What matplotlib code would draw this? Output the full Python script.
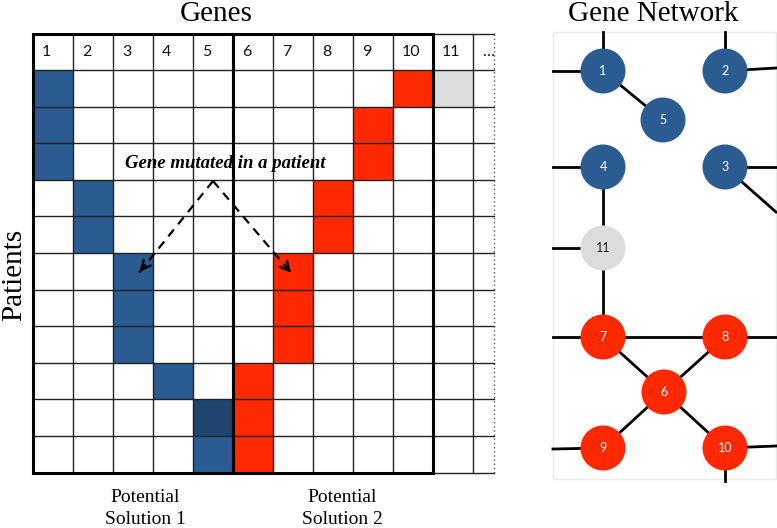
import numpy as np
import matplotlib
matplotlib.use("Agg")
from matplotlib import pyplot as plt
from matplotlib.patches import Rectangle, Circle

# mutation matrix: (patient row, gene column, kind)
blue_cells = [(0, 1), (1, 1), (2, 1), (3, 2), (4, 2), (5, 3), (6, 3), (7, 3), (8, 4), (10, 5)]
dark_cells = [(9, 5)]
red_cells = [(0, 10), (1, 9), (2, 9), (3, 8), (4, 8), (5, 7), (6, 7), (7, 7), (8, 6), (9, 6), (10, 6)]
gray_cells = [(0, 11)]
gene_labels = ["1", "2", "3", "4", "5", "6", "7", "8", "9", "10", "11", "\u2026"]
n_patients = 11

# network
blue_nodes = ["1", "2", "3", "4", "5"]
red_nodes = ["6", "7", "8", "9", "10"]
gray_nodes = ["11"]
edges = [("1", "5"), ("4", "11"), ("11", "7"), ("7", "8"), ("7", "6"), ("8", "6"), ("6", "9"), ("6", "10")]

BLUE = "#2A5C92"
DARK = "#1F4670"
RED = "#FF2800"
GRAY = "#DCDCDC"
serif = "Liberation Serif"
sans = "Lato"

fig = plt.figure(figsize=(7.77, 5.28), dpi=100)
ax = fig.add_axes([0, 0, 1, 1])
ax.set_xlim(0, 777)
ax.set_ylim(528, 0)
ax.axis("off")

# grid layout (pixels)
x0, y0, cw, rh, top = 33, 70, 40, 36.6, 34
def cell_xy(r, c):
    return x0 + (c - 1) * cw, y0 + r * rh

for cells, col in [(blue_cells, BLUE), (dark_cells, DARK), (red_cells, RED), (gray_cells, GRAY)]:
    for r, c in cells:
        x, y = cell_xy(r, c)
        ax.add_patch(Rectangle((x, y), cw, rh, facecolor=col, edgecolor="none", zorder=1))

bottom = y0 + n_patients * rh
right = x0 + 11 * cw + 21
# thin grid lines
for i in range(n_patients + 1):
    y = y0 + i * rh
    ax.plot([x0, right], [y, y], color="#222222", lw=1.0, zorder=2)
ax.plot([x0, right], [top, top], color="#222222", lw=1.0, zorder=2)
for c in range(12):
    x = x0 + c * cw
    ax.plot([x, x], [top, bottom], color="#222222", lw=1.0, zorder=2)
ax.plot([right, right], [top, bottom], color="#555555", lw=1.0, ls=(0, (1, 2)), zorder=2)

# thick solution boxes
for c0 in (0, 5):
    ax.add_patch(Rectangle((x0 + c0 * cw, top), 5 * cw, bottom - top, fill=False,
                           edgecolor="black", lw=2.2, zorder=3))

for i, g in enumerate(gene_labels):
    ax.text(x0 + i * cw + 9, 52, g, fontsize=11.5, family=sans, ha="left", va="center", color="#111111")

ax.text(216, 14, "Genes", fontsize=21, family=serif, ha="center", va="center")
ax.text(14, 275, "Patients", fontsize=21, family=serif, ha="center", va="center", rotation=90)
ax.text(145, 497, "Potential", fontsize=14, family=serif, ha="center", va="center")
ax.text(145, 520, "Solution 1", fontsize=14, family=serif, ha="center", va="center")
ax.text(342, 497, "Potential", fontsize=14, family=serif, ha="center", va="center")
ax.text(342, 520, "Solution 2", fontsize=14, family=serif, ha="center", va="center")

ax.text(225, 163, "Gene mutated in a patient", fontsize=13.5, family=serif, style="italic",
        weight="bold", ha="center", va="center", zorder=5)

# dashed arrows
apex = (213, 181)
for end in [(138, 274), (293, 275)]:
    ax.plot([apex[0], end[0]], [apex[1], end[1]], color="black", lw=1.6, ls=(0, (4, 3)), zorder=5)
    d = np.array(end) - np.array(apex)
    d = d / np.hypot(*d)
    ax.annotate("", xy=end, xytext=(end[0] - d[0] * 14, end[1] - d[1] * 14),
                arrowprops=dict(arrowstyle="->", lw=1.8, color="black", mutation_scale=16), zorder=6)

# network panel
ax.add_patch(Rectangle((553, 32), 223, 447, fill=False, edgecolor="#EAEAEA", lw=1.0, zorder=0))
pos = {"1": (603, 71), "2": (725, 71), "5": (663, 120), "4": (603, 167), "3": (725, 167),
       "11": (603, 248), "7": (603, 337), "8": (725, 337), "6": (664, 392),
       "9": (603, 448), "10": (725, 448)}
stubs = [("1", (603, 32)), ("1", (553, 71)), ("2", (725, 32)), ("2", (776, 68)),
         ("4", (553, 167)), ("3", (776, 167)), ("3", (776, 212)), ("11", (553, 248)),
         ("7", (553, 337)), ("8", (776, 337)), ("9", (553, 449)), ("10", (776, 446)),
         ("10", (725, 481))]
for a, b in edges:
    ax.plot([pos[a][0], pos[b][0]], [pos[a][1], pos[b][1]], color="black", lw=2, zorder=2)
for a, p in stubs:
    ax.plot([pos[a][0], p[0]], [pos[a][1], p[1]], color="black", lw=2, zorder=2)
for nodes, col, tcol in [(blue_nodes, BLUE, "white"), (red_nodes, RED, "white"), (gray_nodes, GRAY, "#222222")]:
    for n in nodes:
        ax.add_patch(Circle(pos[n], 22.5, facecolor=col, edgecolor="none", zorder=3))
        ax.text(pos[n][0], pos[n][1], n, fontsize=9, family=sans, color=tcol,
                ha="center", va="center", zorder=4)

ax.text(653, 14, "Gene Network", fontsize=21, family=serif, ha="center", va="center")

fig.savefig("out.png", dpi=100)
